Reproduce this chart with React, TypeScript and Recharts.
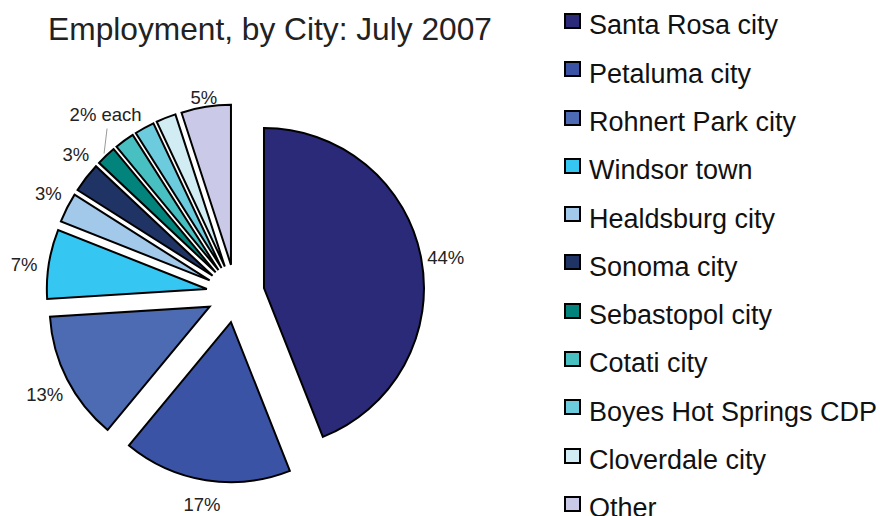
import { Cell, Legend, Pie, PieChart } from "recharts";

const CITIES = [
  "Santa Rosa city",
  "Petaluma city",
  "Rohnert Park city",
  "Windsor town",
  "Healdsburg city",
  "Sonoma city",
  "Sebastopol city",
  "Cotati city",
  "Boyes Hot Springs CDP",
  "Cloverdale city",
  "Other",
];

const SHARES = [44, 17, 13, 7, 3, 3, 2, 2, 2, 2, 5];

const SLICE_LABELS = ["44%", "17%", "13%", "7%", "3%", "3%", "", "2% each", "", "", "5%"];

const COLORS = [
  "#2a2a78",
  "#3b53a5",
  "#4c6bb3",
  "#36c6f2",
  "#a2c8ea",
  "#1f3465",
  "#02847c",
  "#48c0c2",
  "#6ccbdc",
  "#d2ecf4",
  "#cacae8",
];

const FONT = "'Liberation Sans', Arial, sans-serif";
const RADIAN = Math.PI / 180;
const EXPLODE = 29;

const data = CITIES.map((name, i) => ({ name, value: SHARES[i] }));

// every slice is pulled out along its own mid angle
const total = SHARES.reduce((a, b) => a + b, 0);
let acc = 0;
const offsets = SHARES.map((v) => {
  const mid = 90 - ((acc + v / 2) / total) * 360;
  acc += v;
  return {
    dx: EXPLODE * Math.cos(mid * RADIAN),
    dy: -EXPLODE * Math.sin(mid * RADIAN),
  };
});

const renderLabel = (props: any) => {
  const { cx, cy, midAngle, index, outerRadius } = props;
  if (index === 6) {
    // leader line for the "2% each" group
    const cos6 = Math.cos(-midAngle * RADIAN);
    const sin6 = Math.sin(-midAngle * RADIAN);
    const sx = cx + (outerRadius + 32) * cos6;
    const sy = cy + (outerRadius + 32) * sin6;
    return <line x1={sx} y1={sy} x2={sx + 3} y2={sy - 25} stroke="#999" strokeWidth={1} />;
  }
  const text = SLICE_LABELS[index];
  if (!text) return null;
  // the second 3% label sits a little lower, next to its neighbour
  const angle = index === 5 ? midAngle - 4 : index === 4 ? midAngle - 2 : midAngle;
  const cos = Math.cos(-angle * RADIAN);
  const sin = Math.sin(-angle * RADIAN);
  const r = index === 7 ? outerRadius + 61 : index === 10 ? outerRadius + 42 : outerRadius + 54;
  const dy = index === 7 || index === 1 ? 0 : 4;
  return (
    <text
      x={cx + r * cos}
      y={cy + r * sin + dy}
      textAnchor="middle"
      dominantBaseline="central"
      fill="#222"
      fontSize={18.5}
      fontFamily={FONT}
    >
      {text}
    </text>
  );
};

const renderLegend = (props: any) => {
  const items = [...(props.payload || [])].sort(
    (a: any, b: any) => CITIES.indexOf(a.value) - CITIES.indexOf(b.value),
  );
  return (
    <div style={{ position: "relative", fontFamily: FONT }}>
      {items.map((entry: any) => (
        <div key={entry.value} style={{ position: "relative", height: 48.3 }}>
          <div
            style={{
              position: "absolute",
              left: 4,
              top: 13,
              width: 17,
              height: 16,
              boxSizing: "border-box",
              border: "2px solid #000",
              background: COLORS[CITIES.indexOf(entry.value)],
            }}
          />
          <div
            style={{
              position: "absolute",
              left: 29,
              top: 12.4,
              fontSize: 27,
              lineHeight: "27px",
              color: "#111",
              whiteSpace: "nowrap",
            }}
          >
            {entry.value}
          </div>
        </div>
      ))}
    </div>
  );
};

export default function App() {
  return (
    <div style={{ position: "absolute", left: 0, top: 0, width: 880, height: 516, background: "#fff" }}>
      <div
        style={{
          position: "absolute",
          left: 0,
          width: 540,
          top: 13.5,
          textAlign: "center",
          fontFamily: FONT,
          fontSize: 31.7,
          lineHeight: "31.7px",
          color: "#222",
          whiteSpace: "nowrap",
        }}
      >
        Employment, by City: July 2007
      </div>
      <PieChart width={880} height={516} margin={{ top: 0, right: 0, bottom: 0, left: 0 }}>
        <Pie
          data={data}
          dataKey="value"
          nameKey="name"
          cx={235.5}
          cy={293.5}
          outerRadius={160}
          startAngle={90}
          endAngle={-270}
          stroke="#000"
          strokeWidth={2}
          label={renderLabel}
          labelLine={false}
          isAnimationActive={false}
        >
          {data.map((d, i) => (
            <Cell
              key={d.name}
              fill={COLORS[i]}
              transform={`translate(${offsets[i].dx}, ${offsets[i].dy})`}
            />
          ))}
        </Pie>
        <Legend
          layout="vertical"
          align="right"
          verticalAlign="top"
          content={renderLegend}
          wrapperStyle={{ left: 560, top: 0, width: 320 }}
        />
      </PieChart>
    </div>
  );
}
